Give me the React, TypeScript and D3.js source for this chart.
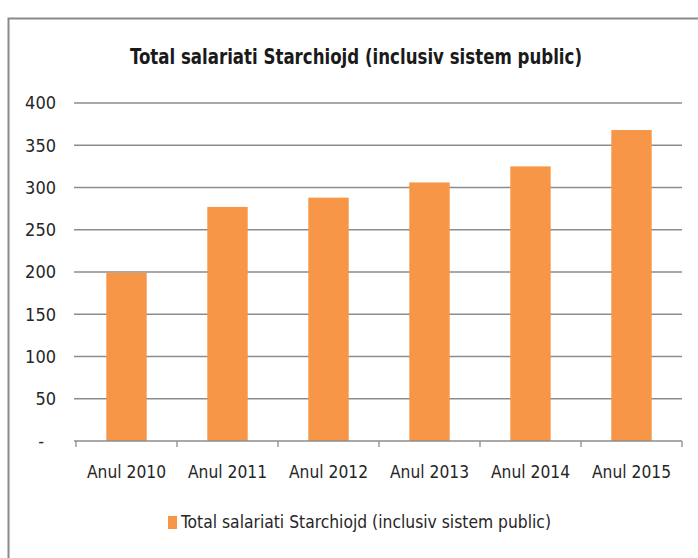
import React from "react";
import * as d3 from "d3";

const categories = ["Anul 2010", "Anul 2011", "Anul 2012", "Anul 2013", "Anul 2014", "Anul 2015"];
const values = [199, 277, 288, 306, 325, 368];
const yTicks = [0, 50, 100, 150, 200, 250, 300, 350, 400];
const title = "Total salariati Starchiojd (inclusiv sistem public)";
const seriesName = "Total salariati Starchiojd (inclusiv sistem public)";

const W = 698;
const H = 558;
const left = 74;
const right = 682;
const top = 103;
const bottom = 441;
const font = "'DejaVu Sans Condensed', 'Liberation Sans', sans-serif";
const orange = "#F79646";

export default function App() {
  const x = d3.scaleBand<string>().domain(categories).range([left + 2, right]).paddingInner(0.6).paddingOuter(0.3);
  const y = d3.scaleLinear().domain([0, 400]).range([bottom, top]);
  const step = x.step();
  const edges = d3.range(categories.length + 1).map((i) => left + 2 + i * step);
  return (
    <svg width={W} height={H} style={{ position: "absolute", left: 0, top: 0, background: "#fff" }} fontFamily={font}>
      <rect x={8.5} y={18.5} width={W + 10} height={H + 10} fill="#fff" stroke="#8a8a8a" strokeWidth={2} />
      <text x={356} y={64} textAnchor="middle" fontSize={21} fontWeight="bold" fill="#1a1a1a" textLength={452} lengthAdjust="spacingAndGlyphs">{title}</text>
      {yTicks.map((t) => (
        <g key={t}>
          {t > 0 && <line x1={left} x2={right} y1={y(t)} y2={y(t)} stroke="#8c8c8c" strokeWidth={1.3} />}
          <text x={t === 0 ? 44 : 56} y={y(t)} dy="0.35em" textAnchor="end" fontSize={18} fill="#262626">
            {t === 0 ? "-" : t}
          </text>
        </g>
      ))}
      {categories.map((c, i) => (
        <rect key={c} x={x(c)} y={y(values[i])} width={x.bandwidth()} height={y(0) - y(values[i])} fill={orange} />
      ))}
      <line x1={left} x2={right} y1={bottom} y2={bottom} stroke="#8c8c8c" strokeWidth={1.3} />
      {edges.map((e, i) => (
        <line key={i} x1={e} x2={e} y1={bottom} y2={bottom + 6} stroke="#8c8c8c" strokeWidth={1.3} />
      ))}
      {categories.map((c) => (
        <text key={c} x={(x(c) as number) + x.bandwidth() / 2} y={478} textAnchor="middle" fontSize={18} fill="#262626" textLength={79} lengthAdjust="spacingAndGlyphs">
          {c}
        </text>
      ))}
      <rect x={168} y={516} width={9} height={13} fill={orange} />
      <text x={181} y={528} fontSize={18} fill="#262626" textLength={370} lengthAdjust="spacingAndGlyphs">{seriesName}</text>
    </svg>
  );
}
